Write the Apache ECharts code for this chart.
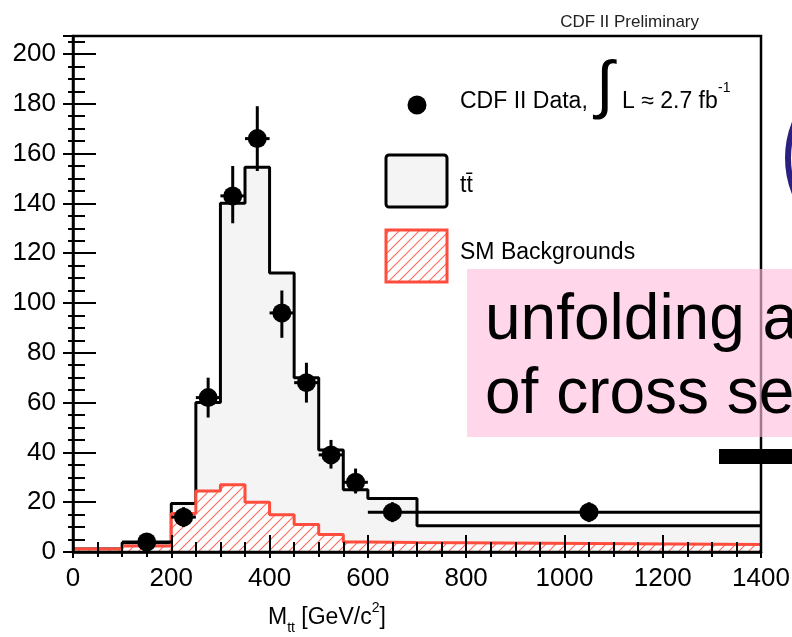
<!DOCTYPE html>
<html><head><meta charset="utf-8">
<script src="https://cdn.jsdelivr.net/npm/echarts@6.0.0/dist/echarts.min.js"></script>
<style>html,body{margin:0;padding:0;background:#fff}#c{width:792px;height:637px}</style>
</head><body><div id="c"></div>
<script>
// ---- data ----
const binEdges = [0, 100, 200, 250, 300, 350, 400, 450, 500, 550, 600, 700, 1400];
const ttStacked = [1.2, 3.7, 19.5, 60, 140, 154.5, 112, 70, 41, 25, 21.5, 10.5];
const smBackgrounds = [1.2, 2.4, 15.5, 24.5, 27, 20, 15, 11, 7, 4, 3.8, 3];
const dataX = [150, 225, 275, 325, 375, 425, 475, 525, 575, 650, 1050];
const dataY = [4, 14, 62, 143, 166, 96, 68, 39, 28, 16, 16];
const dataErrLow = [2, 10, 54, 132, 153, 86, 60, 33.5, 23.5, 12, 12];
const dataErrHigh = [6, 18, 70, 155, 179, 105, 76, 45, 33.5, 20, 20];
const dataXLow = [100, 200, 250, 300, 350, 400, 450, 500, 550, 600, 700];
const dataXHigh = [200, 250, 300, 350, 400, 450, 500, 550, 600, 700, 1400];
const xTicks = [0, 200, 400, 600, 800, 1000, 1200, 1400];
const yTicks = [0, 20, 40, 60, 80, 100, 120, 140, 160, 180, 200];

const FONT = '"Liberation Sans", Arial, Helvetica, sans-serif';
const RED = '#ff4d3d';

function stepData(vals) {
  return binEdges.map((e, i) => [e, i < vals.length ? vals[i] : vals[vals.length - 1]]);
}
function hatchCanvas() {
  const c = document.createElement('canvas');
  c.width = 10; c.height = 10;
  const g = c.getContext('2d');
  g.fillStyle = '#fff'; g.fillRect(0, 0, 10, 10);
  g.strokeStyle = '#ff6a5c'; g.lineWidth = 1.1;
  g.beginPath();
  g.moveTo(-1, 11); g.lineTo(11, -1);
  g.moveTo(-6, 6); g.lineTo(6, -6);
  g.moveTo(4, 16); g.lineTo(16, 4);
  g.stroke();
  return c;
}
const hatch = { image: hatchCanvas(), repeat: 'repeat' };

const xMin = xTicks[0], xMax = xTicks[xTicks.length - 1];
const yMax = 207.2;

const chart = echarts.init(document.getElementById('c'), null, { renderer: 'canvas' });
const tickX = (inside, len, mlen, withLabel) => ({
  type: 'value', position: 'bottom', min: xMin, max: xMax, interval: 200, z: 10,
  axisLine: { show: withLabel, onZero: false, lineStyle: { color: '#000', width: 2.5 } },
  axisTick: { show: true, inside: inside, length: len, lineStyle: { color: '#000', width: 2 } },
  minorTick: { show: true, splitNumber: 4, length: mlen, lineStyle: { color: '#000', width: 2 } },
  axisLabel: withLabel ? { show: true, color: '#000', fontSize: 26, fontFamily: FONT, margin: 14,
    formatter: v => xTicks.includes(v) ? String(v) : '' } : { show: false },
  splitLine: { show: false }, minorSplitLine: { show: false }
});
const tickY = (interval, inside, len, withLabel) => ({
  type: 'value', position: 'left', min: 0, max: yMax, interval: interval, z: 10,
  axisLine: { show: withLabel, onZero: false, lineStyle: { color: '#000', width: 2.5 } },
  axisTick: { show: true, inside: inside, length: len, lineStyle: { color: '#000', width: 2 } },
  axisLabel: withLabel ? { show: true, color: '#000', fontSize: 26, fontFamily: FONT, margin: 17,
    formatter: v => yTicks.includes(v) ? String(v) : '' } : { show: false },
  splitLine: { show: false }
});

chart.setOption({
  animation: false,
  backgroundColor: '#fff',
  title: { text: 'CDF II Preliminary', right: 88, top: 9,
    textStyle: { fontSize: 17, fontWeight: 'normal', color: '#222', fontFamily: FONT } },
  grid: { left: 73, right: 31, top: 36, bottom: 85, show: true, z: 10,
    borderColor: '#000', borderWidth: 2.5, backgroundColor: 'transparent', outerBoundsMode: 'none' },
  xAxis: [tickX(true, 17, 10, true), tickX(false, 6, 5, false)],
  yAxis: [tickY(20, false, 10, true), tickY(20, true, 23, false), tickY(5, false, 5, false), tickY(5, true, 12, false)],
  series: [
    { name: 'tt', type: 'line', step: 'end', data: stepData(ttStacked), symbol: 'none',
      lineStyle: { color: '#000', width: 3 }, areaStyle: { color: '#f4f4f4', opacity: 1 }, z: 2 },
    { name: 'SM Backgrounds', type: 'line', step: 'end', data: stepData(smBackgrounds), symbol: 'none',
      lineStyle: { color: RED, width: 3 }, areaStyle: { color: hatch, opacity: 1 }, z: 3 },
    { name: 'errors', type: 'custom', z: 4,
      data: dataX.map((x, i) => [x, dataY[i], dataErrLow[i], dataErrHigh[i], dataXLow[i], dataXHigh[i]]),
      encode: { x: 0, y: 1 },
      renderItem: function (params, api) {
        const lo = api.coord([api.value(0), api.value(2)]);
        const hi = api.coord([api.value(0), api.value(3)]);
        const l = api.coord([api.value(4), api.value(1)]);
        const r = api.coord([api.value(5), api.value(1)]);
        return { type: 'group', children: [
          { type: 'line', shape: { x1: lo[0], y1: lo[1], x2: hi[0], y2: hi[1] }, style: { stroke: '#000', lineWidth: 3 } },
          { type: 'line', shape: { x1: l[0], y1: l[1], x2: r[0], y2: r[1] }, style: { stroke: '#000', lineWidth: 3 } }
        ] };
      } },
    { name: 'CDF II Data', type: 'scatter', z: 5, symbol: 'circle', symbolSize: 19,
      itemStyle: { color: '#000', opacity: 1 }, emphasis: { disabled: true },
      data: dataX.map((x, i) => [x, dataY[i]]) }
  ],
  graphic: [
    // legend
    { type: 'circle', z: 50, shape: { cx: 417, cy: 105, r: 9.5 }, style: { fill: '#000' } },
    { type: 'text', z: 50, left: 460, top: 90, style: { text: 'CDF II Data,', fontSize: 23, fontFamily: FONT, fill: '#000' } },
    { type: 'text', z: 50, left: 596, top: 56, style: { text: '\u222B', fontSize: 64, fontFamily: FONT, fill: '#000' } },
    { type: 'text', z: 50, left: 622, top: 90, style: { text: 'L \u2248 2.7 fb', fontSize: 23, fontFamily: FONT, fill: '#000' } },
    { type: 'text', z: 50, left: 718, top: 81, style: { text: '-1', fontSize: 14, fontFamily: FONT, fill: '#000' } },
    { type: 'rect', z: 50, shape: { x: 386, y: 155, width: 61, height: 52, r: 3 }, style: { fill: '#f4f4f4', stroke: '#000', lineWidth: 3 } },
    { type: 'text', z: 50, left: 460, top: 174, style: { text: 'tt\u0304', fontSize: 23, fontFamily: FONT, fill: '#000' } },
    { type: 'rect', z: 50, shape: { x: 386, y: 230, width: 61, height: 52 }, style: { fill: hatch, stroke: RED, lineWidth: 3 } },
    { type: 'text', z: 50, left: 460, top: 241, style: { text: 'SM Backgrounds', fontSize: 23, fontFamily: FONT, fill: '#000' } },
    // x axis title
    { type: 'text', z: 50, left: 268, top: 601, style: {
      text: '{a|M}{b|tt}{a| [GeV/c}{c|2}{a|]}', fontFamily: FONT, fill: '#000',
      rich: { a: { fontSize: 23, lineHeight: 34, verticalAlign: 'middle', fontFamily: FONT },
              b: { fontSize: 14, lineHeight: 14, verticalAlign: 'bottom', fontFamily: FONT },
              c: { fontSize: 14, lineHeight: 14, verticalAlign: 'top', fontFamily: FONT } } } },
    // overlays from the slide
    { type: 'circle', z: 100, shape: { cx: 883, cy: 158, r: 95 }, style: { fill: 'none', stroke: '#2b2080', lineWidth: 6 } },
    { type: 'rect', z: 100, shape: { x: 467, y: 269, width: 330, height: 168 }, style: { fill: 'rgba(255,190,222,0.63)' } },
    { type: 'text', z: 101, left: 485, top: 289, style: { text: 'unfolding a', fontSize: 64, fontFamily: FONT, fill: '#000' } },
    { type: 'text', z: 101, left: 485, top: 363, style: { text: 'of cross se', fontSize: 64, fontFamily: FONT, fill: '#000' } },
    { type: 'rect', z: 101, shape: { x: 719, y: 449, width: 80, height: 15 }, style: { fill: '#000' } }
  ]
});
</script>
</body></html>
